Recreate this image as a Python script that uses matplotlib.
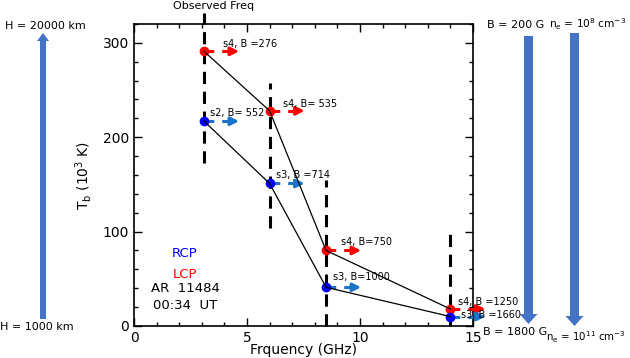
import matplotlib
matplotlib.use("Agg")
import matplotlib.pyplot as plt
from matplotlib.patches import FancyArrow
from matplotlib.ticker import MultipleLocator

# данные: частоты и яркостные температуры (10^3 K)
freq = [3.1, 6.0, 8.5, 14.0]
tb_lcp = [291, 228, 80, 18]
tb_rcp = [217, 151, 41, 10]

# подписи гармоник и полей
lab_lcp = ["s4, B =276", "s4, B= 535", "s4, B=750", "s4, B =1250"]
lab_rcp = ["s2, B= 552", "s3, B =714", "s3, B=1000", "s3, B =1660"]

# вертикальные пунктиры (наблюдаемые частоты): низ и верх
obs_lo = [173, 104, 0, 0]
obs_hi = [332, 258, 155, 100]

RED = "#ff0000"
BLUE = "#0000ff"
ARBLUE = "#1a75c9"
SIDE = "#4472c4"

fig = plt.figure(figsize=(6.3, 3.58), dpi=100)
ax = fig.add_axes([0.2127, 0.0894, 0.5381, 0.8436])

# наблюдаемые частоты
for f, lo, hi in zip(freq, obs_lo, obs_hi):
    ax.plot([f, f], [lo, hi], color="k", lw=2.2, ls=(0, (4, 2.5)),
            clip_on=False, zorder=2)
ax.text(3.5, 339, "Observed Freq", ha="center", va="center", fontsize=8,
        clip_on=False)

# стрелки вправо от точек
L = 1.55
for f, t in zip(freq, tb_lcp):
    ax.plot([f, f + L - 0.35], [t, t], color=RED, lw=2.2, ls=(0, (3.2, 2.6)),
            clip_on=False, zorder=3)
    ax.annotate("", xy=(f + L, t), xytext=(f + L - 0.45, t),
                arrowprops=dict(arrowstyle="-|>", color=RED, lw=2.2,
                                mutation_scale=12, shrinkA=0, shrinkB=0),
                annotation_clip=False, zorder=3)
for f, t in zip(freq, tb_rcp):
    ax.plot([f, f + L - 0.35], [t, t], color=ARBLUE, lw=2.2, ls=(0, (3.2, 2.6)),
            clip_on=False, zorder=3)
    ax.annotate("", xy=(f + L, t), xytext=(f + L - 0.45, t),
                arrowprops=dict(arrowstyle="-|>", color=ARBLUE, lw=2.2,
                                mutation_scale=12, shrinkA=0, shrinkB=0),
                annotation_clip=False, zorder=3)

# точки и линии
ax.plot(freq, tb_lcp, "o", color=RED, ms=6, zorder=4, clip_on=False)
ax.plot(freq, tb_rcp, "o", color=BLUE, ms=6, zorder=4, clip_on=False)
ax.plot(freq, tb_lcp, "k-", lw=0.9, zorder=5)
ax.plot(freq, tb_rcp, "k-", lw=0.9, zorder=5)

# подписи у точек
lcp_pos = [(3.94, 299), (6.6, 235), (9.16, 89), (14.34, 25)]
rcp_pos = [(3.36, 226), (6.28, 160), (8.8, 52), (14.47, 12)]
for (x, y), s in zip(lcp_pos, lab_lcp):
    ax.text(x, y, s, fontsize=7, va="center", ha="left", zorder=6)
for (x, y), s in zip(rcp_pos, lab_rcp):
    ax.text(x, y, s, fontsize=7, va="center", ha="left", zorder=6)

ax.text(2.26, 77, "RCP", color=BLUE, fontsize=9.5, ha="center", va="center")
ax.text(2.26, 55, "LCP", color=RED, fontsize=9.5, ha="center", va="center")
ax.text(2.26, 40, "AR  11484", fontsize=9.5, ha="center", va="center")
ax.text(2.26, 22, "00:34  UT", fontsize=9.5, ha="center", va="center")

ax.set_xlim(0, 15)
ax.set_ylim(0, 320)
ax.xaxis.set_major_locator(MultipleLocator(5))
ax.xaxis.set_minor_locator(MultipleLocator(1))
ax.yaxis.set_major_locator(MultipleLocator(100))
ax.yaxis.set_minor_locator(MultipleLocator(20))
ax.tick_params(which="both", direction="in", top=True, right=True,
               labelsize=10, width=1)
ax.tick_params(which="major", length=6)
ax.tick_params(which="minor", length=3)
for sp in ax.spines.values():
    sp.set_linewidth(1.2)
ax.set_xlabel("Frquency (GHz)", fontsize=10, labelpad=-1)
ax.set_ylabel("T$_\\mathregular{b}$ (10$^3$ K)", fontsize=10, labelpad=6)

# боковые стрелки (высота, поле, плотность) в пикселях
deco = fig.add_axes([0, 0, 1, 1], zorder=-1)
deco.set_xlim(0, 630)
deco.set_ylim(358, 0)
deco.axis("off")
deco.add_patch(FancyArrow(43, 319, 0, -286, width=6, head_width=12,
                          head_length=8, length_includes_head=True,
                          color=SIDE, lw=0))
deco.add_patch(FancyArrow(528.5, 36, 0, 288, width=9, head_width=18,
                          head_length=10, length_includes_head=True,
                          color=SIDE, lw=0))
deco.add_patch(FancyArrow(574.5, 33, 0, 293, width=9, head_width=18,
                          head_length=10, length_includes_head=True,
                          color=SIDE, lw=0))
deco.text(5, 26, "H = 20000 km", fontsize=8, va="center", ha="left")
deco.text(0, 327, "H = 1000 km", fontsize=8, va="center", ha="left")
deco.text(487, 25, "B = 200 G", fontsize=8, va="center", ha="left")
deco.text(549, 24, "n$_\\mathregular{e}$ = 10$^8$ cm$^{-3}$", fontsize=7.6,
          va="center", ha="left")
deco.text(483, 332, "B = 1800 G", fontsize=8, va="center", ha="left")
deco.text(546, 337, "n$_\\mathregular{e}$ = 10$^{11}$ cm$^{-3}$", fontsize=7.4,
          va="center", ha="left")

fig.savefig("out.png", dpi=100)
